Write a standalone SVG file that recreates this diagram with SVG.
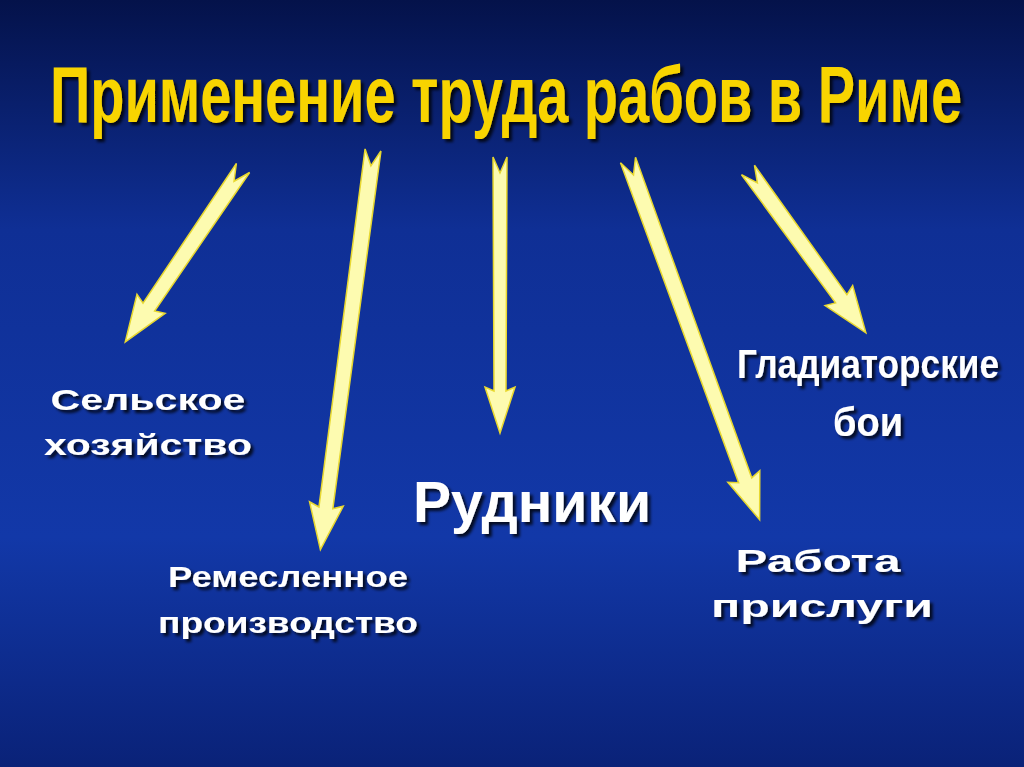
<svg xmlns="http://www.w3.org/2000/svg" width="1024" height="767" viewBox="0 0 1024 767">
<defs>
<linearGradient id="bg" x1="0" y1="0" x2="0" y2="1">
<stop offset="0" stop-color="#04124a"/>
<stop offset="0.3" stop-color="#0f2f95"/>
<stop offset="0.7" stop-color="#1238a8"/>
<stop offset="1" stop-color="#0a2278"/>
</linearGradient>
<filter id="sh" x="-20%" y="-40%" width="140%" height="180%"><feDropShadow dx="3" dy="3" stdDeviation="1.5" flood-color="#000" flood-opacity="0.8"/></filter>
</defs>
<style>
.ar{fill:#fdfbb0;stroke:#e8d830;stroke-width:1.5;stroke-linejoin:miter}
.t{font-family:"Liberation Sans",Arial,sans-serif;font-weight:bold;fill:#fff;filter:url(#sh)}
.title{font-family:"Liberation Sans",Arial,sans-serif;font-weight:bold;fill:#f8d400;filter:url(#sh)}
</style>
<rect width="1024" height="767" fill="url(#bg)"/>
<text class="title" x="50" y="122" font-size="80" textLength="912" lengthAdjust="spacingAndGlyphs">Применение труда рабов в Риме</text>
<g id="connectors">
<path class="ar" transform="translate(243,168) rotate(124.1)" d="M0,-8 L168,-7 L164,-17 L210,0 L164,17 L168,7 L0,8 L16,0 Z"/>
<path class="ar" transform="translate(373,150) rotate(97.5)" d="M0,-8 L361,-7 L357,-17 L403,0 L357,17 L361,7 L0,8 L16,0 Z"/>
<path class="ar" transform="translate(500,157) rotate(90)" d="M0,-7 L234,-6 L230,-15 L276,0 L230,15 L234,6 L0,7 L16,0 Z"/>
<path class="ar" transform="translate(628,160) rotate(69.9)" d="M0,-8 L341,-7 L337,-17 L383,0 L337,17 L341,7 L0,8 L16,0 Z"/>
<path class="ar" transform="translate(748,170) rotate(54.1)" d="M0,-8 L159,-7 L155,-17 L201,0 L155,17 L159,7 L0,8 L16,0 Z"/>
</g>
<g id="n1"><text class="t" font-size="30" x="148" y="410" text-anchor="middle" textLength="195" lengthAdjust="spacingAndGlyphs">Сельское</text>
<text class="t" font-size="30" x="148" y="455" text-anchor="middle" textLength="208" lengthAdjust="spacingAndGlyphs">хозяйство</text></g>
<g id="n2"><text class="t" font-size="30" x="288" y="587" text-anchor="middle" textLength="240" lengthAdjust="spacingAndGlyphs">Ремесленное</text>
<text class="t" font-size="30" x="288" y="633" text-anchor="middle" textLength="260" lengthAdjust="spacingAndGlyphs">производство</text></g>
<g id="n3"><text class="t" font-size="58" x="532" y="522" text-anchor="middle" textLength="238" lengthAdjust="spacingAndGlyphs">Рудники</text></g>
<g id="n4"><text class="t" font-size="40" x="868" y="378" text-anchor="middle" textLength="262" lengthAdjust="spacingAndGlyphs">Гладиаторские</text>
<text class="t" font-size="40" x="868" y="436" text-anchor="middle" textLength="70" lengthAdjust="spacingAndGlyphs">бои</text></g>
<g id="n5"><text class="t" font-size="32" x="818" y="572" text-anchor="middle" textLength="165" lengthAdjust="spacingAndGlyphs">Работа</text>
<text class="t" font-size="32" x="822" y="617" text-anchor="middle" textLength="222" lengthAdjust="spacingAndGlyphs">прислуги</text></g>
</svg>
